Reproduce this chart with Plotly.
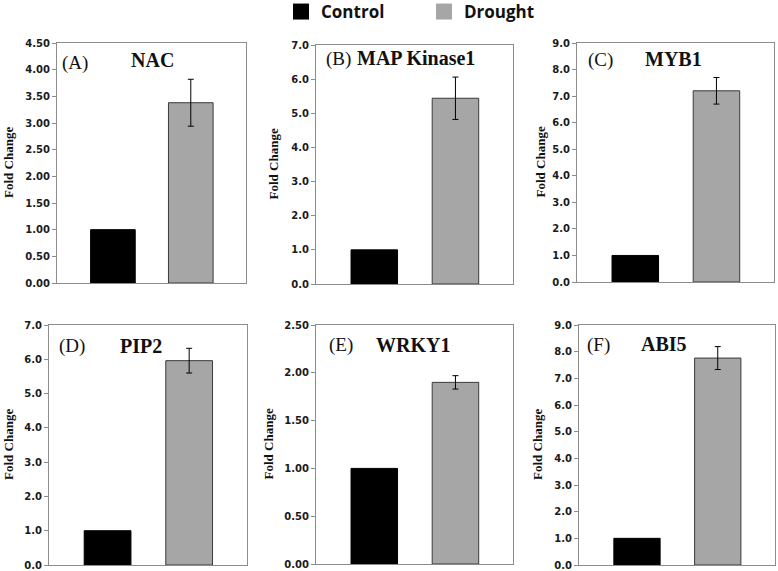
import plotly.graph_objects as go

W, H = 778, 571

# ---- data ----
genes = ["NAC", "MAP Kinase1", "MYB1", "PIP2", "WRKY1", "ABI5"]
panel_labels = ["(A)", "(B)", "(C)", "(D)", "(E)", "(F)"]
groups = ["Control", "Drought"]
control = [1.00, 1.00, 1.00, 1.00, 1.00, 1.00]
drought = [3.38, 5.44, 7.20, 5.96, 1.90, 7.76]
drought_err = [0.44, 0.62, 0.50, 0.36, 0.07, 0.43]
y_max = [4.5, 7.0, 9.0, 7.0, 2.5, 9.0]
y_step = [0.5, 1.0, 1.0, 1.0, 0.5, 1.0]
y_fmt = [".2f", ".1f", ".1f", ".1f", ".2f", ".1f"]

# ---- layout (pixel boxes: left, top, right, bottom) ----
boxes = [(57, 43, 246, 283), (316, 45, 513, 284), (577, 43, 774, 282),
         (49, 325, 247, 565), (316, 325, 513, 564), (579, 325, 775, 565)]
label_pos = [(60, 63), (324, 59), (586, 60), (57, 346), (327, 345), (585, 345)]
title_pos = [(152, 60), (416, 58), (673, 59), (141, 346), (413, 345), (664, 344)]
ylab_x = [8, 273, 540, 8, 268, 537]

CTRL_COLOR = "#000000"
DRT_COLOR = "#A6A6A6"
AXIS_COLOR = "#8C8C8C"
XR = [-0.718, 1.709]
BW = 0.573

fig = go.Figure()
annotations = []
layout_axes = {}

for i in range(6):
    n = "" if i == 0 else str(i + 1)
    xa, ya = "x" + n, "y" + n
    l, t, r, b = boxes[i]
    fig.add_trace(go.Bar(x=[groups[0]], y=[control[i]], xaxis=xa, yaxis=ya,
                         width=BW, marker=dict(color=CTRL_COLOR, line=dict(color="#000000", width=1)),
                         name="Control", legendgroup="Control", showlegend=False))
    fig.add_trace(go.Bar(x=[groups[1]], y=[drought[i]], xaxis=xa, yaxis=ya,
                         width=BW, marker=dict(color=DRT_COLOR, line=dict(color="#3a3a3a", width=1)),
                         error_y=dict(type="data", array=[drought_err[i]], color="#000000",
                                      thickness=1, width=3),
                         name="Drought", legendgroup="Drought", showlegend=False))
    layout_axes["xaxis" + n] = dict(
        domain=[l / W, r / W], anchor=ya, type="category", range=XR,
        showline=True, linecolor=AXIS_COLOR, linewidth=1, mirror=True,
        showticklabels=False, ticks="", showgrid=False, zeroline=False, fixedrange=True)
    layout_axes["yaxis" + n] = dict(
        domain=[1 - b / H, 1 - t / H], anchor=xa, range=[0, y_max[i]],
        dtick=y_step[i], tick0=0, tickformat=y_fmt[i],
        showline=True, linecolor=AXIS_COLOR, linewidth=1, mirror=True,
        ticks="outside", ticklen=4, tickcolor=AXIS_COLOR,
        tickfont=dict(family="DejaVu Sans", size=10, color="#1a1a1a", weight="bold"),
        showgrid=False, zeroline=False, fixedrange=True, automargin=False)
    annotations.append(dict(text=panel_labels[i], xref="paper", yref="paper",
                            x=label_pos[i][0] / W, y=1 - label_pos[i][1] / H,
                            xanchor="left", yanchor="middle", showarrow=False,
                            font=dict(family="Liberation Serif", size=19, color="#111111")))
    annotations.append(dict(text="<b>" + genes[i] + "</b>", xref="paper", yref="paper",
                            x=title_pos[i][0] / W, y=1 - title_pos[i][1] / H,
                            xanchor="center", yanchor="middle", showarrow=False,
                            font=dict(family="Liberation Serif", size=20, color="#111111")))
    annotations.append(dict(text="<b>Fold Change</b>", xref="paper", yref="paper",
                            x=ylab_x[i] / W, y=1 - ((t + b) / 2) / H, textangle=-90,
                            xanchor="center", yanchor="middle", showarrow=False,
                            font=dict(family="Liberation Serif", size=13, color="#111111")))

# legend entries (linked to bar groups)
fig.add_trace(go.Scatter(x=[None], y=[None], mode="markers", name="Control", legendgroup="Control",
                         marker=dict(symbol="square", size=18, color=CTRL_COLOR)))
fig.add_trace(go.Scatter(x=[None], y=[None], mode="markers", name="Drought", legendgroup="Drought",
                         marker=dict(symbol="square", size=18, color=DRT_COLOR)))

fig.update_layout(
    width=W, height=H, margin=dict(l=0, r=0, t=0, b=0, autoexpand=False),
    paper_bgcolor="white", plot_bgcolor="white",
    barmode="overlay", annotations=annotations,
    legend=dict(orientation="h", x=281 / W, xanchor="left", y=1 - 12 / H, yanchor="middle",
                xref="container", yref="container",
                font=dict(family="Open Sans", size=17, color="#111111", weight="bold"),
                entrywidth=98, entrywidthmode="pixels", itemclick="toggle"),
    **layout_axes,
)
fig.write_html("out.html", config={"displayModeBar": False},
               post_script="document.body.style.margin='0';")
